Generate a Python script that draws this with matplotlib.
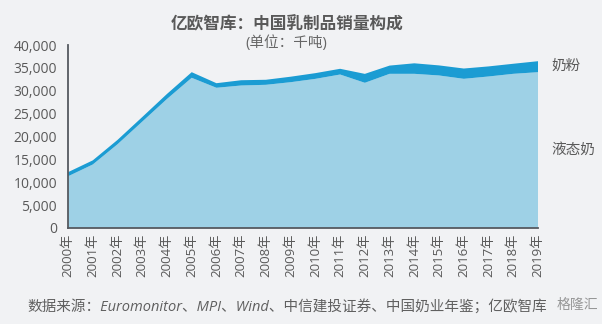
import matplotlib.pyplot as plt
import numpy as np

plt.rcParams['font.family'] = ['Open Sans', 'Noto Sans CJK SC', 'DejaVu Sans']

# data (千吨)
years = [str(y) + '年' for y in range(2000, 2020)]
liquid = [11300, 13880, 18300, 23250, 28200, 32830, 30650, 31150, 31300, 31870,
          32600, 33550, 31740, 33700, 33700, 33340, 32610, 33120, 33700, 34060]
powder = [900, 900, 950, 1000, 1100, 1230, 1000, 1150, 1100, 1200,
          1250, 1250, 1950, 1800, 2300, 2200, 2250, 2200, 2200, 2400]
yticks = [0, 5000, 10000, 15000, 20000, 25000, 30000, 35000, 40000]

bg = '#f1f2f4'
txt = '#595959'

fig = plt.figure(figsize=(6.02, 3.24), dpi=100, facecolor=bg)
ax = fig.add_axes([0.113, 0.2963, 0.7807, 0.5648])
ax.set_facecolor('none')

x = np.arange(len(years))
ax.stackplot(x, liquid, powder, colors=['#9ed1e6', '#1b9cd3'], linewidth=0)

ax.set_xlim(0, len(years) - 1)
ax.set_ylim(0, 40000)
ax.set_yticks(yticks)
ax.set_yticklabels([f'{v:,}' for v in yticks], fontsize=10, color=txt)
ax.set_xticks(x)
ax.set_xticklabels(years, rotation=90, fontsize=9.5, color=txt)
ax.tick_params(axis='y', length=0, pad=8)
ax.tick_params(axis='x', length=0, pad=4)

for s in ['top', 'right']:
    ax.spines[s].set_visible(False)
for s in ['left', 'bottom']:
    ax.spines[s].set_color('#555a60')
    ax.spines[s].set_linewidth(1.3)

# titles
fig.text(287 / 602, 1 - 24 / 324, '亿欧智库：中国乳制品销量构成', ha='center', va='center',
         fontsize=12, fontweight='bold', color=txt)
fig.text(286 / 602, 1 - 43 / 324, '(单位：千吨)', ha='center', va='center',
         fontsize=10.5, color='#666666')

# series labels
fig.text(551 / 602, 1 - 66 / 324, '奶粉', ha='left', va='center', fontsize=10.5, color=txt)
fig.text(551 / 602, 1 - 150 / 324, '液态奶', ha='left', va='center', fontsize=10.5, color=txt)

# source
fig.text(27 / 602, 1 - 307 / 324,
         '数据来源：Euromonitor、MPI、Wind、中信建投证券、中国奶业年鉴；亿欧智库',
         ha='left', va='center', fontsize=10.5, style='italic', color='#606060')
fig.text(598 / 602, 1 - 305 / 324, '格隆汇', ha='right', va='center', fontsize=10,
         color='#808080', alpha=0.8)

fig.savefig('out.png', dpi=100, facecolor=bg)
